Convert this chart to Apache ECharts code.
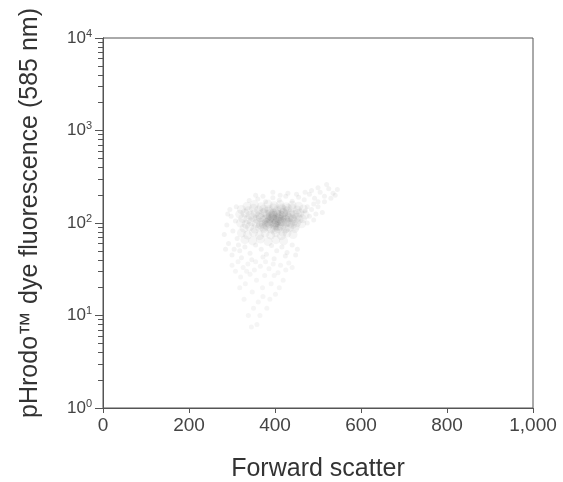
<!DOCTYPE html>
<html>
<head>
<meta charset="utf-8">
<script src="https://cdn.jsdelivr.net/npm/echarts@6/dist/echarts.min.js"></script>
<style>
  html, body { margin: 0; padding: 0; background: #fff; }
  #main { width: 563px; height: 482px; }
</style>
</head>
<body>
<div id="main"></div>
<script>
  // 数据：前向散射 vs 荧光强度（手工读取的点）
  var xTicks = [0, 200, 400, 600, 800, 1000];
  var yMajor = [1, 10, 100, 1000, 10000];
  var yMinor = [2, 3, 4, 5, 6, 7, 8, 9, 20, 30, 40, 50, 60, 70, 80, 90,
    200, 300, 400, 500, 600, 700, 800, 900, 2000, 3000, 4000, 5000, 6000, 7000, 8000, 9000];

  // 核心区
  var corePoints = [
    [335,152],[352,158],[368,150],[384,160],[398,154],[412,158],[426,150],[440,156],[455,152],
    [322,140],[338,136],[350,144],[362,138],[374,142],[386,135],[396,145],[405,138],[416,142],[428,136],[440,144],[452,138],[466,142],
    [318,124],[330,128],[342,121],[354,127],[364,122],[373,129],[381,124],[389,128],[397,121],[404,126],[411,123],[419,129],[427,122],[436,127],[446,124],[458,128],[470,122],
    [325,112],[337,109],[348,115],[358,110],[366,114],[374,108],[381,113],[387,110],[393,115],[399,109],[405,113],[411,110],[418,114],[425,109],[433,113],[442,110],[452,115],[464,111],
    [320,100],[333,97],[345,103],[356,98],[365,102],[373,97],[380,101],[386,98],[392,103],[398,97],[404,101],[410,98],[417,103],[424,99],[432,102],[441,97],[451,101],[462,98],
    [328,88],[341,91],[353,86],[364,90],[374,87],[383,91],[391,86],[399,90],[407,87],[415,91],[424,86],[434,90],[446,87],
    [322,78],[336,74],[350,79],[364,73],[377,78],[390,74],[402,79],[415,73],[428,78],[442,75],
    [330,66],[348,64],[366,67],[384,63],[402,66],[420,64],
    [385,105],[395,112],[405,106],[390,118],[400,100],[410,117],[378,110],[415,104],[395,125],[380,95],[405,92],[420,120]
  ];
  // 最密集的中心
  var centerPoints = [
    [372,90],[386,140],[398,84],[404,132],[410,92],[414,146],[418,80],[422,138],[426,88],[430,144],
    [396,128],[402,100],[408,112],[412,104],[416,120],[420,130],[424,110],[428,102],[432,116],[436,100],
    [388,112],[394,120],[400,94],[406,124],[440,114],[444,104],[384,102],[438,122],[360,118],[452,126],
    [366,96],[448,92],[376,132],[456,110]
  ];
  // 外围
  var haloPoints = [
    [340,175],[360,182],[378,170],[395,188],[410,176],[425,195],[440,172],[455,190],[468,178],[480,205],
    [492,185],[505,215],[515,195],[525,235],[535,210],[520,260],[500,240],[485,225],[470,215],[450,205],
    [430,210],[412,200],[395,215],[372,195],[355,200],[500,170],[515,170],[530,185],[540,200],[545,230],
    [490,160],[475,150],[485,140],[500,150],[510,130],[495,125],[480,118],[490,108],[475,100],[470,135],
    [282,75],[288,95],[292,60],[298,118],[302,82],[305,52],[308,105],[312,68],[295,140],[300,45],
    [310,150],[315,58],[285,52],[290,125],
    [318,50],[330,55],[342,47],[355,58],[368,52],[380,46],[392,57],[404,50],[416,55],[428,48],
    [440,58],[452,52],[322,42],[346,40],[372,43],[398,41],[424,44],[448,45]
  ];
  // 下方拖尾
  var tailPoints = [
    [300,35],[308,30],[314,38],[320,26],[326,33],[331,22],[337,36],[342,28],[347,18],[352,31],
    [357,24],[361,14],[366,34],[371,20],[376,27],[381,12],[386,32],[391,22],[396,36],[401,17],
    [407,29],[413,35],[419,24],[425,31],[432,37],[440,33],[328,15],[338,10],[350,12],[358,8],
    [345,7.5],[365,10],[372,16],[318,20],[388,15],[398,27],[410,20],[334,30],[355,38],[378,38]
  ];

  var myChart = echarts.init(document.getElementById('main'));

  var axisColor = '#555';
  var textColor = '#444';
  var font = 'Liberation Sans, Arial, Helvetica, sans-serif';

  var option = {
    animation: false,
    grid: {
      left: 103, top: 38, right: 30, bottom: 74,
      outerBoundsMode: 'none',
      show: true, borderColor: axisColor, borderWidth: 1,
      backgroundColor: 'transparent'
    },
    xAxis: {
      type: 'value',
      min: 0, max: 1000, interval: 200,
      name: 'Forward scatter',
      nameLocation: 'middle',
      nameGap: 49,
      nameTextStyle: { fontSize: 25, color: '#333', fontFamily: font },
      axisLine: { show: true, lineStyle: { color: axisColor, width: 1 } },
      axisTick: { show: true, length: 5, inside: false, lineStyle: { color: axisColor } },
      axisLabel: {
        fontSize: 19, color: textColor, fontFamily: font, margin: 8,
        formatter: function (v) { return v === 1000 ? '1,000' : String(v); }
      },
      splitLine: { show: false }
    },
    yAxis: [{
      type: 'log', logBase: 10,
      min: 1, max: 10000,
      name: 'pHrodo™ dye fluorescence (585 nm)',
      nameLocation: 'middle',
      nameGap: 60,
      nameTextStyle: { fontSize: 25, color: '#333', fontFamily: font, padding: [0, 0, 0, 20] },
      axisLine: { show: true, lineStyle: { color: axisColor, width: 1 } },
      axisTick: { show: true, length: 8, customValues: yMajor, lineStyle: { color: axisColor } },
      axisLabel: {
        customValues: yMajor, margin: 11, fontFamily: font,
        formatter: function (v) {
          var e = Math.round(Math.log(v) / Math.LN10);
          return '{b|10}{s|' + e + '}';
        },
        rich: {
          b: { fontSize: 17, color: textColor, fontFamily: font },
          s: { fontSize: 11, color: textColor, fontFamily: font, padding: [0, 0, 9, 0] }
        }
      },
      splitLine: { show: false }
    }, {
      type: 'log', logBase: 10,
      min: 1, max: 10000,
      position: 'left',
      offset: 0,
      axisLine: { show: true, lineStyle: { color: axisColor, width: 1 } },
      axisTick: { show: true, length: 5, customValues: yMinor, lineStyle: { color: axisColor } },
      axisLabel: { show: false, customValues: yMinor },
      splitLine: { show: false }
    }],
    series: [
      { type: 'scatter', symbolSize: 5, data: haloPoints, itemStyle: { color: '#333', opacity: 0.06 }, silent: true },
      { type: 'scatter', symbolSize: 5, data: tailPoints, itemStyle: { color: '#333', opacity: 0.05 }, silent: true },
      { type: 'scatter', symbolSize: 9, data: corePoints, itemStyle: { color: '#333', opacity: 0.05 }, silent: true },
      { type: 'scatter', symbolSize: 9, data: centerPoints, itemStyle: { color: '#333', opacity: 0.04 }, silent: true }
    ]
  };

  myChart.setOption(option);
</script>
</body>
</html>
